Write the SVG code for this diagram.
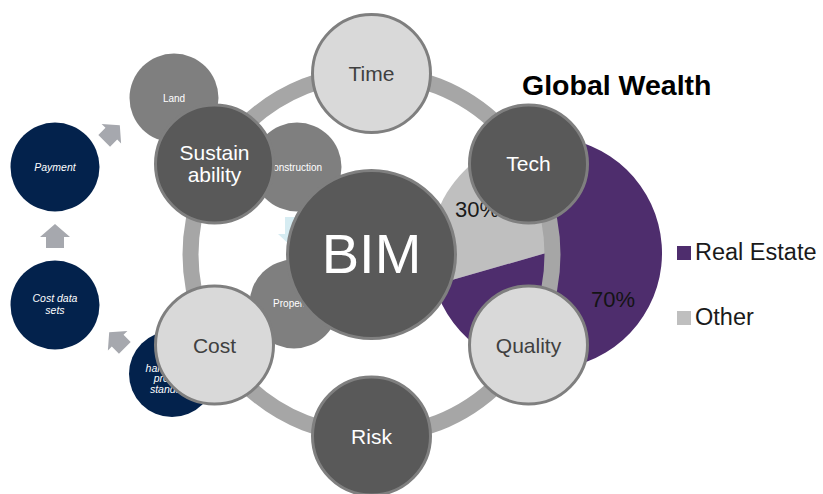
<svg xmlns="http://www.w3.org/2000/svg" xmlns:xlink="http://www.w3.org/1999/xlink" width="823" height="494" viewBox="0 0 823 494">
<defs>
<style>
text{font-family:"Liberation Sans",Arial,sans-serif;}
.navy{fill:#03224c;}
.navyt{fill:#ffffff;font-size:10.5px;font-style:italic;text-anchor:middle;}
.sub{fill:#7f7f7f;}
.subt{fill:#ffffff;font-size:10px;text-anchor:middle;}
.light{fill:#d9d9d9;stroke:#7f7f7f;stroke-width:3;}
.dark{fill:#595959;stroke:#7f7f7f;stroke-width:3;}
.lt{fill:#404040;font-size:21px;text-anchor:middle;}
.dt{fill:#ffffff;font-size:21px;text-anchor:middle;}
.arr{fill:#a6a8ae;}
.pct{font-size:22px;}
.leg{fill:#1a1a1a;font-size:23.5px;}
</style>
<polygon id="blk" points="0,-12 15,1 9,1 9,12 -9,12 -9,1 -15,1"/>
</defs>
<rect width="823" height="494" fill="#ffffff"/>

<g id="pie-chart">
<path d="M546,253 L434.5,285 A116,116 0 0 1 550,137.1 Z" fill="#bfbfbf"/>
<path d="M546,253 L550,137.1 A116,116 0 1 1 434.5,285 Z" fill="#4e2d6d"/>
<text class="pct" x="455" y="217" fill="#1a1a1a">30%</text>
<text class="pct" x="591" y="307" fill="#141414">70%</text>
</g>

<g id="title">
<text x="522" y="95" font-size="28.5" font-weight="bold" fill="#000000">Global Wealth</text>
</g>

<g id="legend">
<rect x="677" y="246" width="14" height="14" fill="#4e2d6d"/>
<text class="leg" x="695" y="260">Real Estate</text>
<rect x="677" y="311" width="14" height="14" fill="#bfbfbf"/>
<text class="leg" x="695" y="325">Other</text>
</g>

<g id="connectors">
<circle cx="371.5" cy="254.5" r="181" fill="none" stroke="#a6a6a6" stroke-width="16"/>
<use xlink:href="#blk" href="#blk" class="arr" transform="translate(55,236)"/>
<use xlink:href="#blk" href="#blk" class="arr" transform="translate(112,133) rotate(45) scale(0.92)"/>
<use xlink:href="#blk" href="#blk" class="arr" transform="translate(117,340) rotate(-45) scale(0.92)"/>
<polygon points="285,217 301,217 301,234 308,234 293,248 278,234 285,234" fill="#d6ecf2"/>
</g>

<g id="payment">
<circle class="navy" cx="55" cy="167" r="44.5"/>
<text class="navyt" x="55" y="171">Payment</text>
</g>
<g id="cost-data-sets">
<circle class="navy" cx="55" cy="305" r="44.5"/>
<text class="navyt" x="55" y="302">Cost data</text>
<text class="navyt" x="55" y="314">sets</text>
</g>
<g id="harmonised-property-standards">
<circle class="navy" cx="172" cy="374" r="43"/>
<text class="navyt" x="173" y="371.5">harmonised</text>
<text class="navyt" x="173" y="382">property</text>
<text class="navyt" x="173" y="393">standards</text>
</g>

<g id="land">
<circle class="sub" cx="174" cy="98" r="44.5"/>
<text class="subt" x="174" y="101.5">Land</text>
</g>
<g id="construction">
<circle class="sub" cx="297" cy="167" r="44.5"/>
<text class="subt" x="294" y="171">Construction</text>
</g>
<g id="property">
<circle class="sub" cx="294" cy="304" r="44.5"/>
<text class="subt" x="292" y="307">Property</text>
</g>

<g id="bim">
<circle class="dark" cx="371.5" cy="254.5" r="84"/>
<text x="371.5" y="273" fill="#ffffff" font-size="56" text-anchor="middle">BIM</text>
</g>

<g id="time">
<circle class="light" cx="371.5" cy="73.5" r="59"/>
<text class="lt" x="371.5" y="80.5">Time</text>
</g>
<g id="tech">
<circle class="dark" cx="528.5" cy="164" r="59"/>
<text class="dt" x="528.5" y="171">Tech</text>
</g>
<g id="quality">
<circle class="light" cx="528.5" cy="345" r="59"/>
<text class="lt" x="528.5" y="352.5">Quality</text>
</g>
<g id="risk">
<circle class="dark" cx="371.5" cy="436" r="59"/>
<text class="dt" x="371.5" y="443.5">Risk</text>
</g>
<g id="cost">
<circle class="light" cx="214.5" cy="345" r="59"/>
<text class="lt" x="214.5" y="352.5">Cost</text>
</g>
<g id="sustainability">
<circle class="dark" cx="214.5" cy="164" r="59"/>
<text class="dt" x="214.5" y="160">Sustain</text>
<text class="dt" x="214.5" y="182">ability</text>
</g>
</svg>
